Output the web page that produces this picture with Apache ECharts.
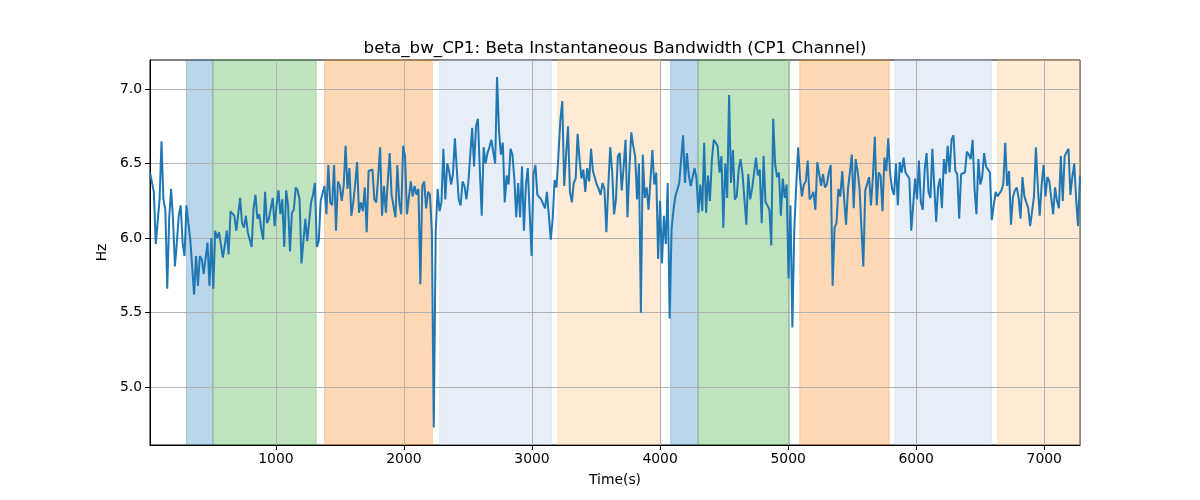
<!DOCTYPE html>
<html>
<head>
<meta charset="utf-8">
<script src="https://cdn.jsdelivr.net/npm/echarts@6/dist/echarts.min.js"></script>
<style>
html,body{margin:0;padding:0;background:#fff;}
#chart{width:1200px;height:500px;}
</style>
</head>
<body>
<div id="chart"></div>
<script>
// ---- data ----
const T_START = 17;
const T_END = 7279;
const bw_part1 = [6.44,6.43,6.31,5.96,5.96,6.26,6.65,6.26,6.19,5.66,6.13,6.33,6.13,5.81,5.97,6.15,6.22,5.97,5.88,6.22,6.10,5.99,5.99,5.62,5.88,5.68,5.88,5.86,5.76,5.77,5.97,5.68,6.00,5.66,6.05,6.00,6.04,6.04,5.87,5.95,6.05,5.89,6.18,6.19,6.15,6.05,6.04,6.27,6.10,6.07,6.15,6.04,6.04,5.94,6.20,6.29,6.13,6.16,6.06,5.99,6.31,6.10,6.13,6.20,6.27,6.08,6.22,6.32,6.16,6.26,5.94,6.32,6.22,5.91,6.17,6.19,6.34,6.32,6.26];
const bw_part2 = [5.83,5.98,6.13,5.98,5.98,6.24,6.29,6.37,5.94,5.98,6.25,6.26,6.35,6.16,6.49,6.24,6.22,6.49,6.05,6.38,6.35,6.25,6.35,6.62,6.33,6.47,6.15,6.24,6.36,6.51,6.17,6.24,6.18,6.34,6.04,6.45,6.45,6.46,6.26,6.24,6.41,6.61,6.15,6.35,6.17,6.38,6.57,6.29,6.29,6.14,6.49,6.24,6.16,6.62,6.55,6.16,6.27,6.38,6.28,6.35,6.29,6.33,5.69,6.35,6.38,6.20,6.31,6.29,6.04,4.73,6.04,6.33,6.18,6.24,6.60,6.26,6.50,6.45];
const bw_part3 = [6.36,6.43,6.67,6.46,6.26,6.22,6.38,6.35,6.26,6.37,6.36,6.74,6.48,6.75,6.80,6.46,6.15,6.61,6.50,6.57,6.61,6.66,6.65,6.50,7.08,6.72,6.56,6.64,6.24,6.42,6.36,6.60,6.56,6.40,6.14,6.37,6.14,6.48,6.05,6.35,6.47,6.46,5.88,6.43,6.49,6.29,6.29,6.26,6.27,6.20,6.31,6.32,5.99,6.13,6.39,6.34,6.56,6.79,6.92,6.35,6.56,6.75,6.31,6.24,6.37,6.40,6.70,6.53,6.40,6.46,6.31,6.47,6.38,6.60,6.45,6.44,6.36,6.33];
const bw_part4 = [6.29,6.37,6.33,6.04,6.35,6.61,6.45,6.16,6.26,6.55,6.57,6.32,6.48,6.66,6.14,6.46,6.71,6.62,6.55,6.26,6.50,5.50,6.56,6.27,6.34,6.19,6.18,6.59,6.36,6.44,5.86,6.25,5.83,6.15,5.96,6.37,5.46,6.06,6.19,6.28,6.28,6.37,6.38,6.69,6.37,6.57,6.42,6.35,6.36,6.47,6.40,6.17,6.36,6.18,6.64,6.17,6.42,6.25,6.52,6.66,6.65,6.62,6.44,6.55,6.07,6.50,6.27,6.96,6.37,6.59,6.26,6.28,6.46,6.53,6.43,6.42,6.09,6.43];
const bw_part5 = [6.26,6.33,6.34,6.54,6.42,6.46,6.10,6.55,6.24,6.22,6.19,5.95,6.80,6.50,6.41,6.44,6.15,6.40,6.27,6.36,5.73,6.22,5.40,6.06,6.35,6.61,6.40,6.28,6.36,6.38,6.52,6.26,6.28,6.31,6.19,6.51,6.43,6.35,6.43,6.34,6.36,6.44,6.49,5.68,6.07,6.10,6.33,6.28,6.45,6.26,6.09,6.33,6.44,6.56,6.20,6.53,6.45,6.34,6.35,5.81,6.32,6.31,6.41,6.22,6.41,6.68,6.22,6.44,6.42,6.18,6.54,6.45,6.67,6.43,6.33,6.29,6.50,6.22,6.51];
const bw_part6 = [6.44,6.54,6.44,6.43,6.40,6.05,6.22,6.40,6.26,6.52,6.24,6.19,6.46,6.57,6.31,6.27,6.60,6.35,6.11,6.34,6.40,6.20,6.53,6.43,6.62,6.44,6.66,6.69,6.45,6.43,6.13,6.43,6.43,6.44,6.58,6.56,6.53,6.66,6.33,6.16,6.53,6.36,6.41,6.57,6.48,6.47,6.44,6.12,6.22,6.31,6.28,6.29,6.32,6.36,6.64,6.35,6.45,6.09,6.27,6.32,6.34,6.27,6.13,6.41,6.28,6.29,6.20,6.08,6.18,6.28,6.61,6.35,6.15,6.36,6.49,6.28,6.41,6.38,6.37,6.16,6.34,6.25,6.20,6.55,6.25,6.55,6.54,6.60,6.29,6.41,6.50,6.26,6.08,6.42];

const bandStart = [302, 508, 1380, 2279, 3201, 4083, 4297, 5091, 5834, 6636];
const bandEnd   = [508, 1315, 2222, 3151, 4005, 4297, 5011, 5789, 6589, 7279];
const bandKind  = ['blue','green','orange','lightblue','lightorange','blue','green','orange','lightblue','lightorange'];

const xTicks = [1000, 2000, 3000, 4000, 5000, 6000, 7000];
const yTicks = [5.0, 5.5, 6.0, 6.5, 7.0];

// ---- build ----
const values = [].concat(bw_part1, bw_part2, bw_part3, bw_part4, bw_part5, bw_part6);
const step = (T_END - T_START) / (values.length - 1);
const seriesData = values.map((v, i) => [T_START + i * step, v]);

const kindColor = {
  blue: 'rgba(31,119,180,0.3)',
  green: 'rgba(44,160,44,0.3)',
  orange: 'rgba(255,127,14,0.3)',
  lightblue: 'rgba(174,199,232,0.3)',
  lightorange: 'rgba(255,187,120,0.3)'
};
const bands = bandStart.map((s, i) => [
  { xAxis: s, itemStyle: { color: kindColor[bandKind[i]], borderColor: kindColor[bandKind[i]], borderWidth: 1 } },
  { xAxis: bandEnd[i] }
]);

const FONT = 'DejaVu Sans';
const chart = echarts.init(document.getElementById('chart'), null, { renderer: 'canvas' });
chart.setOption({
  animation: false,
  backgroundColor: '#ffffff',
  textStyle: { fontFamily: FONT },
  title: {
    text: 'beta_bw_CP1: Beta Instantaneous Bandwidth (CP1 Channel)',
    left: 610, top: 35, textAlign: 'center',
    textStyle: { fontFamily: FONT, fontSize: 16.7, fontWeight: 'normal', color: '#000' }
  },
  grid: { left: 150, right: 120, top: 60, bottom: 55, show: true, borderColor: '#000', borderWidth: 1, backgroundColor: 'transparent' },
  xAxis: {
    type: 'value', min: T_START, max: T_END, z: 2,
    name: 'Time(s)', nameLocation: 'middle', nameGap: 28,
    nameTextStyle: { fontFamily: FONT, fontSize: 13.9, color: '#000' },
    axisLine: { show: true, lineStyle: { color: '#000', width: 1 } },
    axisTick: { show: true, length: 5, lineStyle: { color: '#000' }, customValues: xTicks },
    axisLabel: { customValues: xTicks, color: '#000', fontSize: 13.9, fontFamily: FONT, margin: 7, formatter: v => String(Math.round(v)) },
    splitLine: { show: true, lineStyle: { color: '#b0b0b0', width: 1 } }
  },
  yAxis: {
    type: 'value', min: 4.612, max: 7.195, z: 2,
    name: 'Hz', nameLocation: 'middle', nameGap: 38,
    nameTextStyle: { fontFamily: FONT, fontSize: 13.9, color: '#000' },
    axisLine: { show: true, lineStyle: { color: '#000', width: 1 } },
    axisTick: { show: true, length: 5, lineStyle: { color: '#000' }, customValues: yTicks },
    axisLabel: { customValues: yTicks, color: '#000', fontSize: 13.9, fontFamily: FONT, margin: 8, formatter: v => v.toFixed(1) },
    splitLine: { show: true, lineStyle: { color: '#b0b0b0', width: 1 } }
  },
  series: [
    {
      type: 'line', data: [], z: 1, silent: true,
      markArea: { silent: true, data: bands }
    },
    {
      type: 'line', data: seriesData, z: 3, showSymbol: false, symbol: 'none',
      lineStyle: { color: '#1f77b4', width: 2 }, itemStyle: { color: '#1f77b4' }
    }
  ]
});
</script>
</body>
</html>
